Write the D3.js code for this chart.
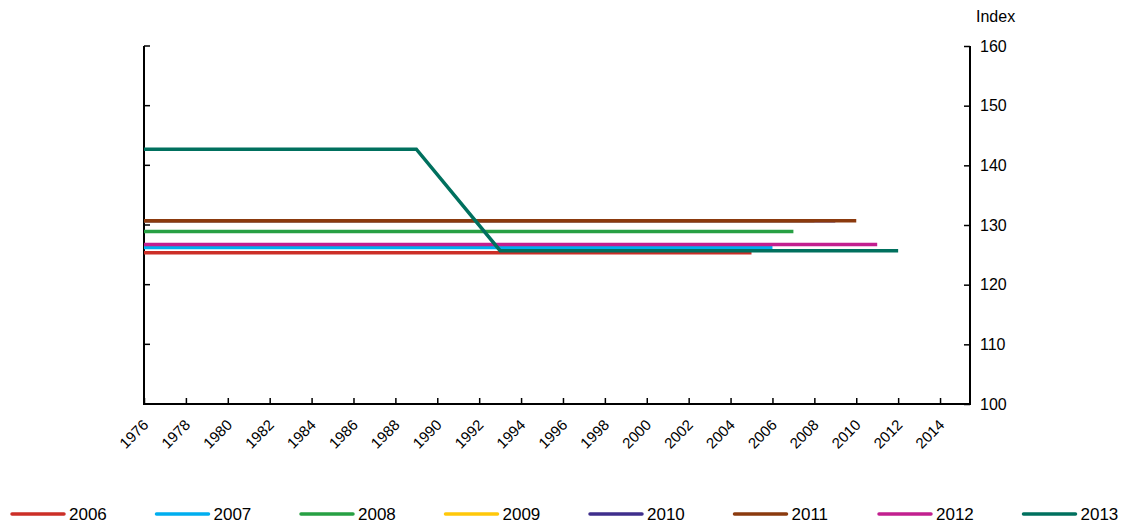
<!DOCTYPE html>
<meta charset="utf-8">
<style>
body { margin: 0; background: #fff; }
text { font-family: "Liberation Sans", Arial, sans-serif; fill: #000; }
</style>
<body>
<script src="https://d3js.org/d3.v7.min.js"></script>
<script>
var width = 1127,
    height = 527;

// vintages (legend) and their colours
var vintages = ["2006", "2007", "2008", "2009", "2010", "2011", "2012", "2013"];
var colors = ["#cc2f27", "#00aeef", "#27a043", "#ffc80a", "#3f2e8c", "#8b3a0e", "#c21f8f", "#00705e"];

// each vintage as [year, index] points
var s2006 = [[1976, 125.35], [2005, 125.35]];
var s2007 = [[1976, 126.25], [2006, 126.25]];
var s2008 = [[1976, 128.9], [2007, 128.9]];
var s2009 = [[1976, 130.7], [2008, 130.7]];
var s2010 = [[1976, 130.7], [2009, 130.7]];
var s2011 = [[1976, 130.7], [2010, 130.7]];
var s2012 = [[1976, 126.75], [2011, 126.75]];
var s2013 = [[1976, 142.7], [1989, 142.7], [1993, 125.7], [2012, 125.7]];
var series = [s2006, s2007, s2008, s2009, s2010, s2011, s2012, s2013];

var xTicks = d3.range(1976, 2015, 2);
var yTicks = [100, 110, 120, 130, 140, 150, 160];

var svg = d3.select("body").append("svg")
    .attr("width", width)
    .attr("height", height);

var x = d3.scaleLinear().domain([1976, 2015.43]).range([144, 970]);
var y = d3.scaleLinear().domain([100, 160]).range([404, 46]);

// frame: left, bottom, right axis lines
svg.append("path")
    .attr("d", "M" + x.range()[0] + "," + y.range()[1] + "V" + y.range()[0] + "H" + x.range()[1] + "V" + y.range()[1])
    .attr("fill", "none").attr("stroke", "#000").attr("stroke-width", 2);

// right axis
var yAxis = svg.append("g")
    .attr("transform", "translate(" + x.range()[1] + ",0)")
    .call(d3.axisRight(y).tickValues(yTicks).tickSize(0).tickPadding(10));
yAxis.select(".domain").remove();
yAxis.selectAll("text").style("font-size", "16px").attr("text-anchor", "start");
yAxis.selectAll(".tick").append("line")
    .attr("x1", -6).attr("x2", 0).attr("stroke", "#000").attr("stroke-width", 1.5);

// left ticks (inside)
svg.append("g").selectAll("line").data(yTicks).join("line")
    .attr("x1", x.range()[0]).attr("x2", x.range()[0] + 6)
    .attr("y1", d => y(d)).attr("y2", d => y(d))
    .attr("stroke", "#000").attr("stroke-width", 1.5);

svg.append("text")
    .attr("x", 976).attr("y", 22)
    .style("font-size", "16px")
    .text("Index");

// bottom axis
var xAxis = svg.append("g")
    .attr("transform", "translate(0," + y.range()[0] + ")")
    .call(d3.axisBottom(x).tickValues(xTicks).tickFormat(d3.format("d")).tickSize(0));
xAxis.select(".domain").remove();
xAxis.selectAll(".tick").append("line")
    .attr("y1", -6).attr("y2", 0).attr("stroke", "#000").attr("stroke-width", 1.5);
xAxis.selectAll("text")
    .style("font-size", "15px")
    .attr("text-anchor", "end")
    .attr("dy", "0.35em")
    .attr("transform", "translate(-1,16) rotate(-45)");

// lines
var line = d3.line().x(d => x(d[0])).y(d => y(d[1]));
svg.append("g").selectAll("path").data(series).join("path")
    .attr("d", line)
    .attr("fill", "none")
    .attr("stroke", (d, i) => colors[i])
    .attr("stroke-width", 3.5);

// legend
var legend = svg.append("g").selectAll("g").data(vintages).join("g")
    .attr("transform", (d, i) => "translate(" + (12 + i * 144.5) + ",514)");
legend.append("line")
    .attr("x1", 0).attr("x2", 52)
    .attr("stroke", (d, i) => colors[i])
    .attr("stroke-width", 3.5)
    .attr("stroke-linecap", "round");
legend.append("text")
    .attr("x", 57).attr("dy", "0.35em")
    .style("font-size", "17px")
    .text(d => d);
</script>
</body>
